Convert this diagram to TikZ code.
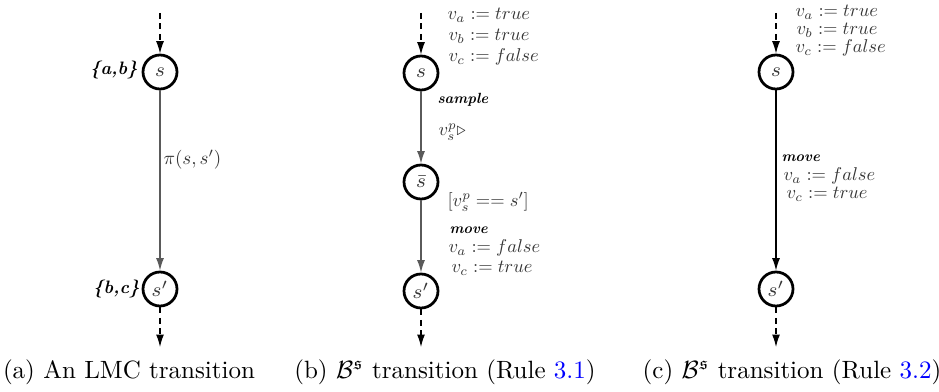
\documentclass[tikz,border=0pt]{standalone}
\usepackage{graphicx}
\usepackage{amssymb}
\usetikzlibrary{arrows.meta}
\definecolor{lblgray}{HTML}{363636}
\definecolor{edgegray}{HTML}{5A5A5A}
\newcommand{\mlab}[2][0.74]{\scalebox{#1}{\fontsize{10}{12}\selectfont$#2$}}
\tikzset{
  state/.style={circle,draw=black,line width=1.1pt,minimum size=13.6pt,inner sep=0pt,font=\fontsize{8}{9}\selectfont,text=lblgray},
  tip/.style={-{Latex[length=5pt,width=3.2pt]}},
  dashedge/.style={tip,draw=black,line width=0.5pt,dash pattern=on 2.4pt off 1.8pt},
  greyedge/.style={tip,draw=edgegray,line width=0.6pt},
  blackedge/.style={tip,draw=black,line width=0.55pt},
  mlbl/.style={anchor=west,inner sep=0pt,text=lblgray},
  tlbl/.style={inner sep=0pt,text=black,font=\fontsize{5.9}{7}\selectfont\bfseries\itshape},
  setlbl/.style={inner sep=0pt,text=black,font=\fontsize{7.2}{8}\selectfont\bfseries\itshape},
  capt/.style={inner sep=0pt,font=\fontsize{10}{12}\selectfont}
}
\begin{document}
\begin{tikzpicture}[x=0.4pt,y=-0.4pt]
\useasboundingbox (0,0) rectangle (939,392);
% ---------- (a) ----------
\coordinate (a0) at (160,13);
\node[state] (as) at (160,72) {$s$};
\node[state] (as2) at (160,289) {$s'$};
\coordinate (a1) at (160,347);
\draw[dashedge] (a0) -- (as);
\draw[greyedge] (as) -- (as2);
\draw[dashedge] (as2) -- (a1);
\node[setlbl,anchor=east] (aab) at (138,70) {\{a,b\}};
\node[setlbl,anchor=east] (abc) at (140,289) {\{b,c\}};
\node[mlbl] (api) at (163,160) {\mlab[0.76]{\pi(s,s')}};
\node[capt] (capa) at (129,372) {(a) An LMC transition};
% ---------- (b) ----------
\coordinate (b0) at (421,13);
\node[state] (bs) at (421,73) {$s$};
\node[state] (bsb) at (421,182) {$\bar{s}$};
\node[state] (bs2) at (421,291) {$s'$};
\coordinate (b1) at (421,347);
\draw[dashedge] (b0) -- (bs);
\draw[greyedge] (bs) -- (bsb);
\draw[greyedge] (bsb) -- (bs2);
\draw[dashedge] (bs2) -- (b1);
\node[mlbl] (bl1) at (447,15) {\mlab{v_a := true}};
\node[mlbl] (bl2) at (448,36) {\mlab{v_b := true}};
\node[mlbl] (bl3) at (448,57) {\mlab{v_c := false}};
\node[tlbl,anchor=west] (bl4) at (437,100) {sample};
\node[mlbl] (bl5) at (438,132) {\mlab{v_s^p\triangleright}};
\node[mlbl] (bl6) at (447,202) {\mlab{[v_s^p == s']}};
\node[tlbl,anchor=west] (bl7) at (449,230) {move};
\node[mlbl] (bl8) at (448,248) {\mlab{v_a := false}};
\node[mlbl] (bl9) at (451,268) {\mlab{v_c := true}};
\node[capt] (capb) at (445,372) {(b) $\mathcal{B}^{\mathfrak{s}}$ transition (Rule \textcolor{blue}{3.1})};
% ---------- (c) ----------
\coordinate (c0) at (776,13);
\node[state] (cs) at (776,72) {$s$};
\node[state] (cs2) at (776,289) {$s'$};
\coordinate (c1) at (776,347);
\draw[dashedge] (c0) -- (cs);
\draw[blackedge] (cs) -- (cs2);
\draw[dashedge] (cs2) -- (c1);
\node[mlbl] (cl1) at (795,12) {\mlab{v_a := true}};
\node[mlbl] (cl2) at (796,30) {\mlab{v_b := true}};
\node[mlbl] (cl3) at (795,48) {\mlab{v_c := false}};
\node[tlbl,anchor=west] (cl4) at (781,158) {move};
\node[mlbl] (cl5) at (783,176) {\mlab{v_a := false}};
\node[mlbl] (cl6) at (786,194) {\mlab{v_c := true}};
\node[capt] (capc) at (792,372) {(c) $\mathcal{B}^{\mathfrak{s}}$ transition (Rule \textcolor{blue}{3.2})};
\end{tikzpicture}
\end{document}
